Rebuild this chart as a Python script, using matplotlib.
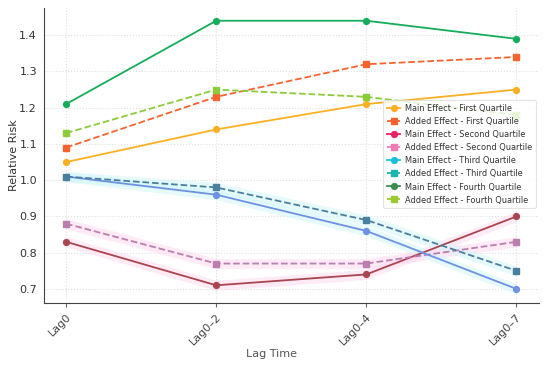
import matplotlib
matplotlib.use("Agg")
import matplotlib.pyplot as plt
from matplotlib.lines import Line2D
from matplotlib.font_manager import FontProperties, fontManager

lags = ["Lag0", "Lag0\u20132", "Lag0\u20134", "Lag0\u20137"]
main_q1 = [1.05, 1.14, 1.21, 1.25]
added_q1 = [1.09, 1.23, 1.32, 1.34]
main_q2 = [0.83, 0.71, 0.74, 0.90]
added_q2 = [0.88, 0.77, 0.77, 0.83]
main_q3 = [1.01, 0.96, 0.86, 0.70]
added_q3 = [1.01, 0.98, 0.89, 0.75]
main_q4 = [1.21, 1.44, 1.44, 1.39]
added_q4 = [1.13, 1.25, 1.23, 1.18]
labels = ["Main Effect - First Quartile", "Added Effect - First Quartile",
          "Main Effect - Second Quartile", "Added Effect - Second Quartile",
          "Main Effect - Third Quartile", "Added Effect - Third Quartile",
          "Main Effect - Fourth Quartile", "Added Effect - Fourth Quartile"]

series = [main_q1, added_q1, main_q2, added_q2, main_q3, added_q3, main_q4, added_q4]
line_colors = ["#fbb023", "#f7632f", "#a94650", "#bb7fae", "#6d92e2", "#4b7f9e", "#14ae5a", "#8ccb3a"]
legend_colors = ["#fbb023", "#f7632f", "#ee1f5e", "#f27ab8", "#19c0dc", "#1ab5b0", "#3c8c4e", "#9acb2e"]
band_colors = [None, None, "#ffd6ee", "#ffd6ee", "#cff7fb", "#cff7fb", None, None]

names = {f.name for f in fontManager.ttflist}
if "DejaVu Sans Condensed" in names:
    leg_fp = FontProperties(family="DejaVu Sans Condensed", size=7)
elif "Liberation Sans Narrow" in names:
    leg_fp = FontProperties(family="Liberation Sans Narrow", size=7.5)
else:
    leg_fp = FontProperties(family="DejaVu Sans", stretch="condensed", size=6.6)

fig, ax = plt.subplots(figsize=(5.5, 3.66), dpi=100)
fig.subplots_adjust(left=0.08, right=0.98, top=0.978, bottom=0.172)
x = list(range(len(lags)))

for i, (vals, col) in enumerate(zip(series, line_colors)):
    ls = "-" if i % 2 == 0 else "--"
    mk = "o" if i % 2 == 0 else "s"
    if band_colors[i]:
        ax.fill_between(x, [v - 0.014 for v in vals], [v + 0.014 for v in vals],
                        color=band_colors[i], alpha=0.5, lw=0, zorder=1)
    ax.plot(x, vals, ls=ls, marker=mk, color=col, lw=1.3, ms=4.2, zorder=3)

handles = []
for i, col in enumerate(legend_colors):
    ls = "-" if i % 2 == 0 else "--"
    mk = "o" if i % 2 == 0 else "s"
    handles.append(Line2D([], [], ls=ls, marker=mk, color=col, lw=1.3, ms=4.2))

ax.set_xticks(x)
ax.set_xticklabels(lags, rotation=45, ha="right", rotation_mode="anchor", fontsize=8, color="#444444")
ax.tick_params(axis="x", color="#666666", length=3)
ax.tick_params(axis="y", labelsize=8, labelcolor="#333333", length=0, pad=5)
ax.set_xlim(-0.147, 3.15)
ax.set_ylim(0.661, 1.475)
ax.set_yticks([0.7, 0.8, 0.9, 1.0, 1.1, 1.2, 1.3, 1.4])
ax.grid(True, color="#e0e0e0", ls=":", lw=0.8)
ax.set_axisbelow(True)
for s in ["top", "right"]:
    ax.spines[s].set_visible(False)
for s in ["left", "bottom"]:
    ax.spines[s].set_color("#444444")
ax.set_xlabel("Lag Time", fontsize=8, color="#555555", labelpad=1)
ax.xaxis.label.set_x(0.46)
ax.set_ylabel("Relative Risk", fontsize=8, color="#333333", labelpad=0)

leg = ax.legend(handles, labels, loc="upper left", bbox_to_anchor=(0.685, 0.688),
                prop=leg_fp, frameon=True, handlelength=1.5, labelspacing=0.45,
                borderpad=0.4, handletextpad=0.5, borderaxespad=0)
leg.get_frame().set_edgecolor("#dddddd")
leg.get_frame().set_linewidth(0.8)
for t in leg.get_texts():
    t.set_color("#333333")

fig.savefig("out.png", dpi=100)
